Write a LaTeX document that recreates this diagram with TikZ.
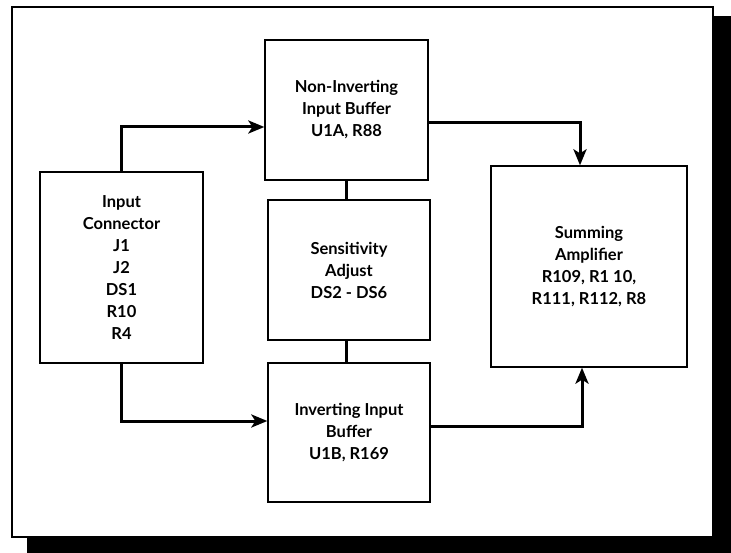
\documentclass[tikz,border=0pt]{standalone}
\usepackage{fontspec}
\setmainfont{Lato}
\usetikzlibrary{arrows.meta}
\tikzset{
  blockbox/.style={draw, line width=1.3pt, align=center, inner sep=0pt,
    font=\bfseries\fontsize{16.5}{22}\selectfont},
  sigline/.style={line width=3pt, -{Stealth[length=16pt,width=13pt,inset=4pt]}},
  tieline/.style={line width=3pt},
}
\begin{document}
\begin{tikzpicture}[x=1pt,y=-1pt]
\useasboundingbox (0,0) rectangle (731,553);
% shadow and frame
\fill[black] (27,16) rectangle (731,553);
\draw[fill=white, line width=1.3pt] (12,7) rectangle (713,537);
% blocks
\node[blockbox, minimum width=163pt, minimum height=191pt] (input) at (121.5,267.5)
  {Input\\Connector\\J1\\J2\\DS1\\R10\\R4};
\node[blockbox, minimum width=163pt, minimum height=140pt] (noninv) at (346.5,110)
  {Non-Inverting\\Input Buffer\\U1A, R88};
\node[blockbox, minimum width=162pt, minimum height=140pt] (sense) at (349,270)
  {Sensitivity\\Adjust\\DS2 - DS6};
\node[blockbox, minimum width=162pt, minimum height=139pt] (inverting) at (349,432.5)
  {Inverting Input\\Buffer\\U1B, R169};
\node[blockbox, minimum width=196pt, minimum height=201pt] (summing) at (589,266.5)
  {Summing\\Amplifier\\R109, R1 10,\\R111, R112, R8};
% signal paths
\draw[sigline] (input.north) |- ([yshift=-17pt]noninv.west);
\draw[sigline] (input.south) |- ([yshift=11.5pt]inverting.west);
\draw[sigline] ([yshift=-13pt]noninv.east) -| ([xshift=-9pt]summing.north);
\draw[sigline] ([yshift=6.5pt]inverting.east) -| ([xshift=-7pt]summing.south);
% sensitivity ties
\draw[tieline] (noninv.south) -- (noninv.south |- sense.north);
\draw[tieline] (noninv.south |- sense.south) -- (noninv.south |- inverting.north);
\end{tikzpicture}
\end{document}
